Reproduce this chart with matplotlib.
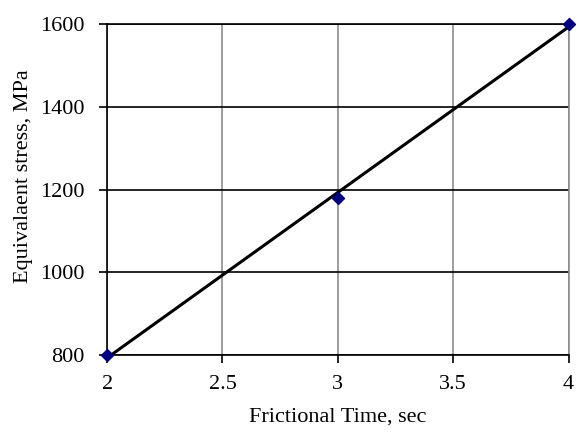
import matplotlib
matplotlib.use("Agg")
import matplotlib.pyplot as plt
import numpy as np

# frictional time (sec) vs equivalent stress (MPa)
time_sec = [2, 3, 4]
stress_mpa = [800, 1180, 1600]
x_ticks = [2, 2.5, 3, 3.5, 4]
x_tick_labels = ["2", "2.5", "3", "3.5", "4"]
y_ticks = [800, 1000, 1200, 1400, 1600]

plt.rcParams['font.family'] = ['Liberation Serif', 'DejaVu Serif']

fig = plt.figure(figsize=(5.79, 4.32), dpi=100)
ax = fig.add_axes([0.185, 0.178, 0.797, 0.766])

# linear trend line through the points
coef = np.polyfit(time_sec, stress_mpa, 1)
xs = np.array([time_sec[0], time_sec[-1]])
ax.plot(xs, np.polyval(coef, xs), color='black', lw=2.2, zorder=3, solid_capstyle='butt')
ax.plot(time_sec, stress_mpa, linestyle='none', marker='D', ms=6.5,
        color='#000080', zorder=4, clip_on=False)

ax.set_xlim(2, 4)
ax.set_ylim(800, 1600)
ax.set_xticks(x_ticks)
ax.set_xticklabels(x_tick_labels)
ax.set_yticks(y_ticks)

for v in x_ticks:
    ax.axvline(v, color='#8c8c8c', lw=1.2, zorder=1)
for v in y_ticks:
    ax.axhline(v, color='black', lw=1.2, zorder=2)

ax.spines['left'].set_color('black')
ax.spines['bottom'].set_color('black')
ax.spines['top'].set_color('black')
ax.spines['right'].set_color('#8c8c8c')
for s in ax.spines.values():
    s.set_linewidth(1.2)

ax.tick_params(axis='both', direction='out', length=6, width=1.2, colors='black',
               labelsize=16)
ax.tick_params(axis='y', pad=10)
ax.tick_params(axis='x', pad=8)

ax.set_xlabel("Frictional Time, sec", fontsize=16, labelpad=10)
ax.set_ylabel("Equivalaent stress, MPa", fontsize=16)
ax.yaxis.set_label_coords(-0.16, 0.54)

fig.savefig("out.png", dpi=100)
